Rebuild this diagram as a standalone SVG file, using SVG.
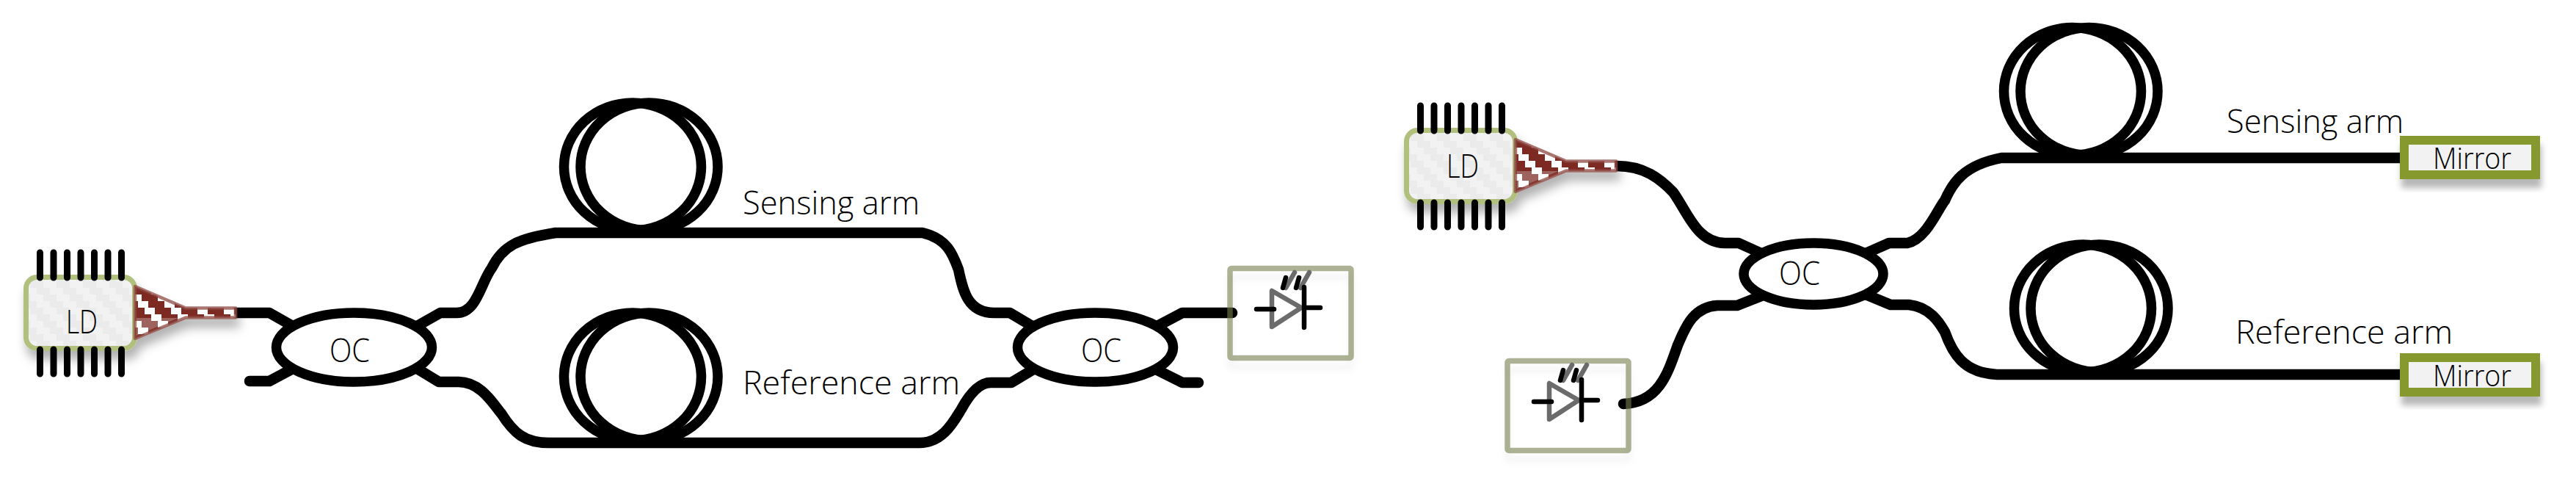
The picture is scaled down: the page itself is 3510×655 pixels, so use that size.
<svg xmlns="http://www.w3.org/2000/svg" width="3510" height="655" viewBox="0 0 3510 655">
<style>
.fiber{fill:none;stroke:#000;stroke-width:14.5;stroke-linecap:round;stroke-linejoin:round}
.coil{fill:none;stroke:#000;stroke-width:13.5}
.oc{fill:#fff;stroke:#000;stroke-width:13.5}
.pin{stroke:#000;stroke-width:9;stroke-linecap:round}
.t{font-family:"Open Sans","Noto Sans",sans-serif;font-weight:300;font-size:45px;fill:#000}
.m{font-size:41px}
.chip{fill:url(#chipFill);stroke:#b2c07e;stroke-width:7}
.taper{fill:url(#taperFill);stroke:#8f4a44;stroke-opacity:.75;stroke-width:4.5;stroke-linejoin:round}
.box{fill:none;stroke:rgb(117,127,77);stroke-opacity:.6;stroke-width:7.5;stroke-linejoin:round}
.mirror{fill:#f2f2f2;stroke:#86992e;stroke-width:12}
.dk{stroke:#000;stroke-width:6.5;stroke-linecap:round;fill:none}
.gr{stroke:#6b6b6b;stroke-width:6.5;stroke-linecap:round;stroke-linejoin:round;fill:none}
</style>
<defs>
<pattern id="chipFill" width="36" height="36" patternUnits="userSpaceOnUse" patternTransform="translate(32 374)">
<rect width="36" height="36" fill="#f2f2f2"/>
<path d="M0 0h18v9H0zM9 9h18v9H9zM18 18h18v9H18zM27 27h9v9h-9zM0 27h9v9H0z" fill="#ebebeb"/>
</pattern>
<pattern id="taperFill" width="36" height="36" patternUnits="userSpaceOnUse" patternTransform="translate(184 392)">
<rect width="36" height="36" fill="#fff"/>
<path d="M0 0h22v9H0zM9 9h22v9H9zM18 18h18v9H18zM0 18h4v9H0zM27 27h9v9h-9zM0 27h13v9H0z" fill="#7b2922"/>
</pattern>
<filter id="softLD" x="-30%" y="-30%" width="160%" height="170%">
<feDropShadow dx="4" dy="12" stdDeviation="7" flood-color="#000" flood-opacity=".3"/>
</filter>
<filter id="softBox" x="-15%" y="-15%" width="130%" height="140%">
<feDropShadow dx="0" dy="12" stdDeviation="4" flood-color="#000" flood-opacity=".07"/>
</filter>
<filter id="softMirror" x="-10%" y="-20%" width="120%" height="170%">
<feDropShadow dx="2" dy="12" stdDeviation="4" flood-color="#000" flood-opacity=".28"/>
</filter>
<g id="laser">
<g filter="url(#softLD)">
<rect class="chip" x="35.5" y="377.5" width="148" height="97" rx="15"/>
<path class="taper" d="M184,390 L253,419.5 H321 V432.5 H253 L184,461 Z"/>
<path d="M186,433 H243 L186,457 Z" fill="#fff" fill-opacity=".28"/>
</g>
<path class="pin" d="M54.5,344V378M73,344V378M91.5,344V378M110,344V378M128.5,344V378M147,344V378M165.5,344V378M54.5,476V509M73,476V509M91.5,476V509M110,476V509M128.5,476V509M147,476V509M165.5,476V509"/>
</g>
<g id="diode">
<path class="gr" d="M1752,392 L1764,371 M1772,392 L1784,371"/>
<path class="dk" d="M1748,392 L1752,378 M1766,392 L1770,378"/>
<path class="gr" d="M1733,396 V445 L1773,419 Z"/>
<path class="dk" d="M1712,421 H1736 M1777,391 V446 M1777,419 H1799"/>
</g>
<g id="coil">
<ellipse class="coil" cx="862" cy="227" rx="93.5" ry="87"/>
<ellipse class="coil" cx="884.5" cy="227" rx="93.5" ry="87"/>
</g>
</defs>
<g id="connectors">
<path class="fiber" d="M321,426 H367 L397,443"/>
<path class="fiber" d="M340,519 H367 L397,503"/>
<path class="fiber" d="M570,443 L600,426 H622 C650,426 655,385 670,365 C685,335 705,325 757,317 H1257 C1290,325 1298,345 1306,367 C1312,395 1318,426 1355,426 H1376 L1408,445"/>
<path class="fiber" d="M570,503 L598,520 H625 C655,520 672,550 683,563 C700,590 715,603 748,603 H1253 C1285,603 1300,573 1310,557 C1322,535 1335,521 1350,521 H1378 L1408,503"/>
<path class="fiber" d="M1575,445 L1611,426 H1679"/>
<path class="fiber" d="M1575,503 L1611,521 H1633"/>
<path class="fiber" d="M2203,226 C2240,226 2262,243 2280,262 C2300,290 2312,330 2350,331 H2369 L2400,345"/>
<path class="fiber" d="M2400,403 L2367,416 H2340 C2305,418 2295,450 2286,470 C2272,510 2260,548 2212,550"/>
<path class="fiber" d="M2542,345 L2574,331 H2599 C2625,325 2640,285 2650,273 C2660,250 2675,225 2727,215 H3275"/>
<path class="fiber" d="M2542,401 L2576,415 H2601 C2630,418 2643,440 2650,452 C2660,480 2675,508 2721,510 H3275"/>
</g>
<g id="coil-sensing-1"><use href="#coil"/></g>
<g id="coil-reference-1"><use href="#coil" y="286"/></g>
<g id="coil-sensing-2"><use href="#coil" x="1962" y="-102.5"/></g>
<g id="coil-reference-2"><use href="#coil" x="1976" y="193"/></g>
<g id="ld-1"><use href="#laser"/><text class="t" x="90" y="454" textLength="43" lengthAdjust="spacingAndGlyphs">LD</text></g>
<g id="ld-2"><use href="#laser" x="1881" y="-200"/><text class="t" x="1971" y="242" textLength="44" lengthAdjust="spacingAndGlyphs">LD</text></g>
<g id="oc-1"><ellipse class="oc" cx="482.5" cy="473" rx="106" ry="47"/><text class="t" x="449" y="493" textLength="55" lengthAdjust="spacingAndGlyphs">OC</text></g>
<g id="oc-2"><ellipse class="oc" cx="1492.5" cy="473" rx="106" ry="47"/><text class="t" x="1473" y="493" textLength="55" lengthAdjust="spacingAndGlyphs">OC</text></g>
<g id="oc-3"><ellipse class="oc" cx="2471" cy="373" rx="95" ry="42"/><text class="t" x="2424" y="388" textLength="56" lengthAdjust="spacingAndGlyphs">OC</text></g>
<g id="detector-1"><rect class="box" x="1676" y="365.5" width="165" height="122" rx="2" filter="url(#softBox)"/><use href="#diode"/></g>
<g id="detector-2"><rect class="box" x="2054" y="491.5" width="165" height="122" rx="2" filter="url(#softBox)"/><use href="#diode" x="378" y="126"/></g>
<g id="mirror-1"><rect class="mirror" x="3276" y="191" width="179" height="47" filter="url(#softMirror)"/><text class="t m" x="3315" y="230" textLength="107" lengthAdjust="spacingAndGlyphs">Mirror</text></g>
<g id="mirror-2"><rect class="mirror" x="3276" y="487" width="179" height="47" filter="url(#softMirror)"/><text class="t m" x="3315" y="526" textLength="107" lengthAdjust="spacingAndGlyphs">Mirror</text></g>
<g id="labels">
<text class="t" x="1012" y="292" textLength="241" lengthAdjust="spacingAndGlyphs">Sensing arm</text>
<text class="t" x="1012" y="537" textLength="296" lengthAdjust="spacingAndGlyphs">Reference arm</text>
<text class="t" x="3034" y="181" textLength="241" lengthAdjust="spacingAndGlyphs">Sensing arm</text>
<text class="t" x="3046" y="468" textLength="296" lengthAdjust="spacingAndGlyphs">Reference arm</text>
</g>
</svg>
